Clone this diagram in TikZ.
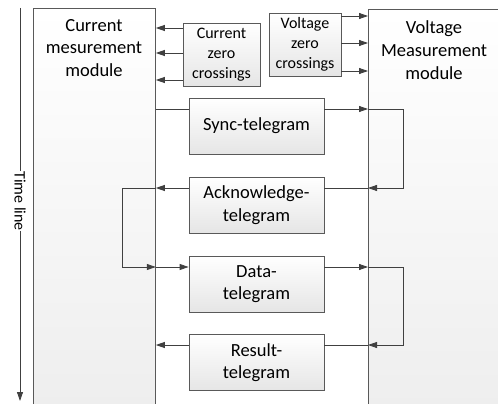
\documentclass[tikz,border=0pt]{standalone}
\usepackage{fontspec}
\setmainfont{Carlito}
\usetikzlibrary{arrows.meta, calc}

\colorlet{LineColor}{black!75}
\colorlet{BoxBorder}{black!65}
\colorlet{ModuleBottom}{black!7}
\colorlet{BoxBottom}{black!10}

\tikzset{
    module/.style={draw=BoxBorder, line width=0.8pt, top color=white,
        bottom color=ModuleBottom, anchor=north west, inner sep=0pt},
    modlabel/.style={align=center, inner sep=0pt,
        font=\fontsize{18.5}{22.8}\selectfont},
    crossbox/.style={draw=BoxBorder, line width=0.8pt, top color=white,
        bottom color=BoxBottom, align=center, inner sep=0pt,
        minimum height=63pt, font=\fontsize{16}{20}\selectfont},
    telegram/.style={draw=BoxBorder, line width=0.8pt, top color=white,
        bottom color=BoxBottom, align=center, inner sep=0pt,
        minimum width=135pt, minimum height=56pt,
        font=\fontsize{18.5}{22.6}\selectfont},
    link/.style={draw=LineColor, line width=0.8pt},
    arrow/.style={link, -{Triangle[length=9pt, width=6pt]}},
}

\begin{document}
\begin{tikzpicture}[x=1pt, y=-1pt]

\useasboundingbox (0,0) rectangle (498,404);

% Modulos de medicion
\node[module, minimum width=122pt, minimum height=420pt] (cmod) at (33,8) {};
\node[module, minimum width=160pt, minimum height=420pt] (vmod) at (368,9) {};
\node[modlabel] (cmodtext) at (94,48) {Current\\mesurement\\module};
\node[modlabel] (vmodtext) at (434,50) {Voltage\\Measurement\\module};

% Cruces por cero
\node[crossbox, minimum width=77pt] (czc) at (221.5,54.5) {Current\\zero\\crossings};
\node[crossbox, minimum width=72pt] (vzc) at (305,44.5) {Voltage\\zero\\crossings};

\foreach \y in {28,53,80}
    \draw[arrow] (czc.west |- 0,\y) -- (cmod.east |- 0,\y);
\foreach \y in {16,43,71}
    \draw[arrow] (vzc.east |- 0,\y) -- (vmod.west |- 0,\y);

% Telegramas
\node[telegram] (sync) at (256.5,126) {Sync-telegram};
\node[telegram] (ack) at (256.5,205) {Acknowledge-\\telegram};
\node[telegram] (data) at (256.5,284) {Data-\\telegram};
\node[telegram] (result) at (256.5,362.5) {Result-\\telegram};

\coordinate (loopA) at (403,188);
\coordinate (loopB) at (122,267);
\coordinate (loopC) at (403,345);

\draw[link] (cmod.east |- 0,109) -- (sync.west |- 0,109);
\draw[arrow] (sync.east |- 0,109) -- (vmod.west |- 0,109);
\draw[arrow] (vmod.west |- 0,109) -| (loopA) -- (vmod.west |- 0,188);

\draw[link] (vmod.west |- 0,188) -- (ack.east |- 0,188);
\draw[arrow] (ack.west |- 0,188) -- (cmod.east |- 0,188);
\draw[arrow] (cmod.east |- 0,188) -| (loopB) -- (cmod.east |- 0,267);

\draw[arrow] (cmod.east |- 0,267) -- (data.west |- 0,267);
\draw[arrow] (data.east |- 0,267) -- (vmod.west |- 0,267);
\draw[arrow] (vmod.west |- 0,267) -| (loopC) -- (vmod.west |- 0,345);

\draw[link] (vmod.west |- 0,345) -- (result.east |- 0,345);
\draw[arrow] (result.west |- 0,345) -- (cmod.east |- 0,345);

% Linea de tiempo
\coordinate (tltop) at (20,8);
\coordinate (tlbot) at (20,401);
\node[rotate=-90, inner sep=0pt, font=\fontsize{16}{20}\selectfont] (tl) at (20,201) {Time line};
\draw[link] (tltop) -- (tl.west);
\draw[arrow] (tl.east) -- (tlbot);

\end{tikzpicture}
\end{document}
